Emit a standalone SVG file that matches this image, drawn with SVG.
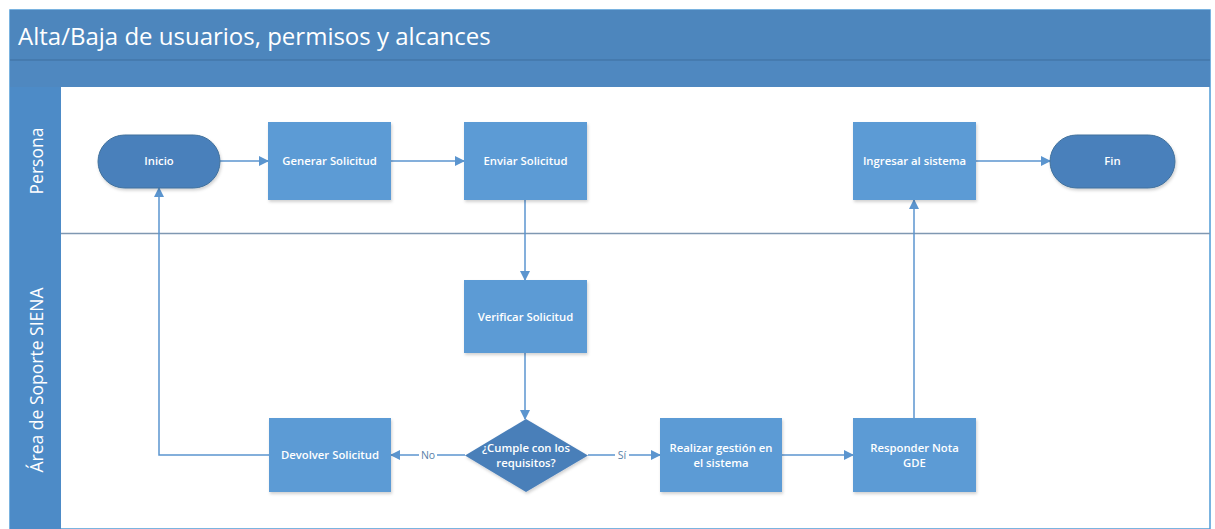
<svg xmlns="http://www.w3.org/2000/svg" width="1215" height="529" viewBox="0 0 1215 529">
<defs>
<marker id="arr" markerWidth="10" markerHeight="10" refX="9" refY="5" orient="auto" markerUnits="userSpaceOnUse">
<path d="M0,0 L10,5 L0,10 Z" fill="#5b95cf"/>
</marker>
<filter id="sh" x="-10%" y="-10%" width="125%" height="130%">
<feDropShadow dx="1" dy="2" stdDeviation="1.5" flood-color="#000" flood-opacity="0.18"/>
</filter>
</defs>
<style>
.proc{fill:#5b9bd5;filter:url(#sh)}
.term{fill:#4a80bb;stroke:#41719c;stroke-width:1;filter:url(#sh)}
.dec{fill:#4a7fb9;filter:url(#sh)}
.lbl{font-family:"Open Sans","Noto Sans",sans-serif;font-size:11.3px;font-weight:600;fill:#ffffff;text-anchor:middle}
.conn{stroke:#5b95cf;stroke-width:1.5;fill:none}
.clbl{font-family:"Open Sans","Noto Sans",sans-serif;font-size:10.5px;fill:#5a7fa8;text-anchor:middle}
.lane{font-family:"Open Sans","Noto Sans",sans-serif;font-size:17.5px;fill:#ffffff;text-anchor:middle}
</style>
<rect x="0" y="0" width="1215" height="529" fill="#ffffff"/>
<g id="pool">
<rect x="10" y="10" width="1200" height="519" fill="#ffffff" stroke="#4f9bd6" stroke-width="1.5"/>
<rect x="10" y="10" width="1200" height="50" fill="#4d86bd"/>
<rect x="10" y="60" width="1200" height="27" fill="#4f88c0"/>
<line x1="10" y1="60" x2="1210" y2="60" stroke="#3f6f9e" stroke-width="1"/>
<text x="18" y="45" font-family="Open Sans,Noto Sans,sans-serif" font-size="24" fill="#ffffff">Alta/Baja de usuarios, permisos y alcances</text>
</g>
<g id="lane-persona">
<rect x="10" y="87" width="51" height="146" fill="#4d8bc7"/>
<text class="lane" transform="translate(43,161) rotate(-90)">Persona</text>
</g>
<g id="lane-soporte">
<rect x="10" y="233" width="51" height="296" fill="#4d8bc7"/>
<text class="lane" transform="translate(43,380) rotate(-90)">Área de Soporte SIENA</text>
<line x1="61" y1="233.5" x2="1210" y2="233.5" stroke="#7f98b2" stroke-width="1.5"/>
</g>
<g id="connectors">
<line class="conn" x1="220" y1="161" x2="268" y2="161" marker-end="url(#arr)"/>
<line class="conn" x1="391" y1="161" x2="464" y2="161" marker-end="url(#arr)"/>
<line class="conn" x1="976" y1="161" x2="1050" y2="161" marker-end="url(#arr)"/>
<line class="conn" x1="525" y1="200" x2="525" y2="280" marker-end="url(#arr)"/>
<line class="conn" x1="525" y1="353" x2="525" y2="419" marker-end="url(#arr)"/>
<line class="conn" x1="465" y1="455" x2="391" y2="455" marker-end="url(#arr)"/>
<polyline class="conn" points="269,455 159,455 159,188" marker-end="url(#arr)"/>
<line class="conn" x1="588" y1="455" x2="660" y2="455" marker-end="url(#arr)"/>
<line class="conn" x1="782" y1="455" x2="853" y2="455" marker-end="url(#arr)"/>
<line class="conn" x1="914" y1="418" x2="914" y2="200" marker-end="url(#arr)"/>
<rect x="419" y="448" width="18" height="14" fill="#ffffff"/>
<text class="clbl" x="428" y="459">No</text>
<rect x="615" y="448" width="14" height="14" fill="#ffffff"/>
<text class="clbl" x="622" y="459">Sí</text>
</g>
<g id="inicio">
<rect class="term" x="98" y="135" width="122" height="53" rx="26.5"/>
<text class="lbl" x="159" y="165">Inicio</text>
</g>
<g id="generar">
<rect class="proc" x="268" y="122" width="123" height="78"/>
<text class="lbl" x="329.5" y="165">Generar Solicitud</text>
</g>
<g id="enviar">
<rect class="proc" x="464" y="122" width="123" height="78"/>
<text class="lbl" x="525.5" y="165">Enviar Solicitud</text>
</g>
<g id="ingresar">
<rect class="proc" x="853" y="122" width="123" height="78"/>
<text class="lbl" x="914.5" y="165">Ingresar al sistema</text>
</g>
<g id="fin">
<rect class="term" x="1050" y="135" width="125" height="53" rx="26.5"/>
<text class="lbl" x="1112.5" y="165">Fin</text>
</g>
<g id="verificar">
<rect class="proc" x="464" y="280" width="123" height="73"/>
<text class="lbl" x="525.5" y="321">Verificar Solicitud</text>
</g>
<g id="decision">
<polygon class="dec" points="526,419 588,455.5 526,492 465,455.5"/>
<text class="lbl" x="526" y="452">¿Cumple con los</text>
<text class="lbl" x="526" y="467">requisitos?</text>
</g>
<g id="devolver">
<rect class="proc" x="269" y="418" width="122" height="74"/>
<text class="lbl" x="330" y="459">Devolver Solicitud</text>
</g>
<g id="realizar">
<rect class="proc" x="660" y="418" width="122" height="74"/>
<text class="lbl" x="721" y="452">Realizar gestión en</text>
<text class="lbl" x="721" y="467">el sistema</text>
</g>
<g id="responder">
<rect class="proc" x="853" y="418" width="123" height="74"/>
<text class="lbl" x="914.5" y="452">Responder Nota</text>
<text class="lbl" x="914.5" y="467">GDE</text>
</g>
</svg>
